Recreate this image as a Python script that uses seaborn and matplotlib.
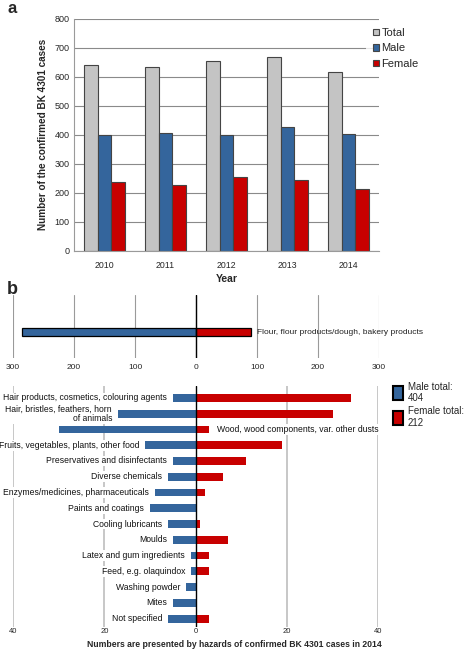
import numpy as np
import pandas as pd
import matplotlib
matplotlib.use('Agg')
import matplotlib.pyplot as plt
from matplotlib.patches import Patch
import seaborn as sns

sns.set_style('white')
plt.rcParams['font.family'] = ['Liberation Sans', 'DejaVu Sans']

# panel a: confirmed BK 4301 cases per year
years = ['2010', '2011', '2012', '2013', '2014']
total = [640, 633, 656, 670, 616]
male = [401, 406, 400, 428, 404]
female = [239, 228, 256, 243, 212]

# panel b: hazards 2014
flour_label = 'Flour, flour products/dough, bakery products'
flour_male = 285
flour_female = 90

hazards = ['Hair products, cosmetics, colouring agents',
           'Hair, bristles, feathers, horn\nof animals',
           'Wood, wood components, var. other dusts',
           'Fruits, vegetables, plants, other food',
           'Preservatives and disinfectants',
           'Diverse chemicals',
           'Enzymes/medicines, pharmaceuticals',
           'Paints and coatings',
           'Cooling lubricants',
           'Moulds',
           'Latex and gum ingredients',
           'Feed, e.g. olaquindox',
           'Washing powder',
           'Mites',
           'Not specified']
haz_male = [5, 17, 30, 11, 5, 6, 9, 10, 6, 5, 1, 1, 2, 5, 6]
haz_female = [34, 30, 3, 19, 11, 6, 2, 0, 1, 7, 3, 3, 0, 0, 3]
male_total = 404
female_total = 212

c_total = '#c4c4c4'
c_male = '#34659c'
c_female = '#c80000'

fig = plt.figure(figsize=(4.68, 6.5), dpi=100)

# ---------------- panel a
ax = fig.add_axes([0.158, 0.614, 0.652, 0.357])
df = pd.DataFrame({'Year': years * 3,
                   'Group': ['Total'] * 5 + ['Male'] * 5 + ['Female'] * 5,
                   'Cases': total + male + female})
ax.set_axisbelow(True)
ax.grid(axis='y', color='#8a8a8a', lw=0.8)
sns.barplot(data=df, x='Year', y='Cases', hue='Group',
            hue_order=['Total', 'Male', 'Female'],
            palette=[c_total, c_male, c_female], width=0.667, saturation=1,
            edgecolor='#444444', linewidth=0.8, ax=ax)
ax.set_ylim(0, 800)
ax.set_yticks(np.arange(0, 801, 100))
ax.set_xlim(-0.5, 4.5)
ax.set_xticks(np.arange(-0.5, 5, 1), minor=True)
ax.tick_params(axis='x', which='minor', length=3, color='#999999', width=0.8)
ax.tick_params(axis='x', which='major', length=0, labelsize=6.3, pad=7)
ax.tick_params(axis='y', length=0, labelsize=6.5, pad=3)
for s in ['top', 'right']:
    ax.spines[s].set_visible(False)
for s in ['left', 'bottom']:
    ax.spines[s].set_color('#9a9a9a')
ax.set_xlabel('Year', fontsize=7.5, fontweight='bold', labelpad=3)
ax.set_ylabel('Number of the confirmed BK 4301 cases', fontsize=7.2,
              fontweight='bold', labelpad=5)
leg = ax.legend(loc='upper left', bbox_to_anchor=(0.957, 0.99), fontsize=8,
                frameon=True, handlelength=0.55, handleheight=0.55,
                handletextpad=0.25, labelspacing=0.5, borderpad=0.6,
                borderaxespad=0)
leg.get_frame().set_edgecolor('none')
leg.get_frame().set_facecolor('white')
fig.text(0.015, 0.987, 'a', fontsize=12, fontweight='bold', va='center')

# ---------------- panel b top (flour)
axt = fig.add_axes([0.028, 0.449, 0.782, 0.097])
sns.barplot(x=[-flour_male], y=[flour_label], orient='h', color=c_male,
            width=0.22, saturation=1, edgecolor='black', linewidth=0.9, ax=axt)
sns.barplot(x=[flour_female], y=[flour_label], orient='h', color=c_female,
            width=0.22, saturation=1, edgecolor='black', linewidth=0.9, ax=axt)
axt.set_ylim(0.7, -1.0)
axt.set_xlim(-300, 300)
axt.set_xticks(np.arange(-300, 301, 100))
axt.set_xticklabels([str(abs(v)) for v in range(-300, 301, 100)])
axt.set_yticks([])
axt.set_ylabel('')
axt.set_axisbelow(True)
axt.grid(axis='x', color='#9a9a9a', lw=0.8)
axt.axvline(0, color='black', lw=1.0)
axt.tick_params(axis='x', length=0, labelsize=6, pad=4)
for s in axt.spines.values():
    s.set_visible(False)
axt.text(flour_female + 10, 0, flour_label, fontsize=6.0, va='center',
         ha='left', color='#222222')
fig.text(0.015, 0.555, 'b', fontsize=13, fontweight='bold', va='center')

# ---------------- panel b bottom (other hazards)
axb = fig.add_axes([0.028, 0.035, 0.780, 0.371])
hdf = pd.DataFrame({'Hazard': hazards,
                    'Male': [-v for v in haz_male],
                    'Female': haz_female})
axb.set_axisbelow(True)
for gx in [-40, -20, 20, 40]:
    axb.axvline(gx, color='#bdbdbd', lw=1.2, zorder=0)
sns.barplot(data=hdf, x='Male', y='Hazard', orient='h', color=c_male,
            width=0.5, saturation=1, linewidth=0, ax=axb)
sns.barplot(data=hdf, x='Female', y='Hazard', orient='h', color=c_female,
            width=0.5, saturation=1, linewidth=0, ax=axb)
axb.axvline(0, color='black', lw=1.0)
axb.set_xlim(-40, 40)
axb.set_ylim(14.55, -0.75)
axb.set_xticks([-40, -20, 0, 20, 40])
axb.set_xticklabels(['40', '20', '0', '20', '40'])
axb.set_yticks([])
axb.set_ylabel('')
axb.set_xlabel('')
axb.tick_params(axis='x', length=0, labelsize=5.5, pad=0.5)
for s in axb.spines.values():
    s.set_visible(False)
for i, name in enumerate(hazards):
    if name.startswith('Wood'):
        axb.text(haz_female[i] + 1.7, i, name, fontsize=6.2, va='center',
                 ha='left', color='#111111',
                 bbox=dict(facecolor='white', edgecolor='none', pad=0.6))
    else:
        axb.text(-haz_male[i] - 1.3, i, name, fontsize=6.2, va='center',
                 ha='right', color='#111111', linespacing=1.1,
                 bbox=dict(facecolor='white', edgecolor='none', pad=0.6))
handles = [Patch(facecolor=c_male, edgecolor='black', linewidth=1.5),
           Patch(facecolor=c_female, edgecolor='black', linewidth=1.5)]
axb.legend(handles, ['Male total:\n%d' % male_total,
                     'Female total:\n%d' % female_total],
           loc='upper left', bbox_to_anchor=(1.03, 1.035), frameon=False,
           fontsize=7, handlelength=1.0, handleheight=1.9,
           handletextpad=0.5, labelspacing=0.3, borderaxespad=0)
fig.text(0.5, 0.008, 'Numbers are presented by hazards of confirmed BK 4301 cases in 2014',
         fontsize=6.2, fontweight='bold', ha='center', va='center')

fig.savefig('out.png', dpi=100)
